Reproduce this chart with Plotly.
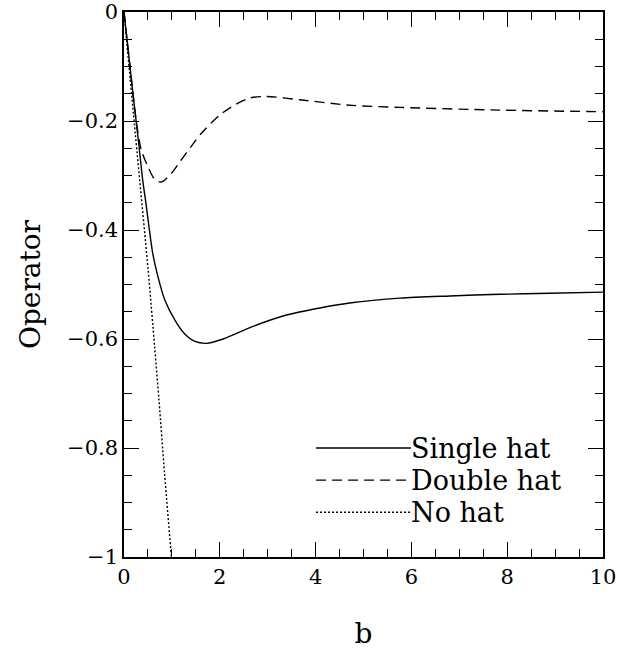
import plotly.graph_objects as go

# Data
b_single = [0, 0.1, 0.2, 0.29, 0.39, 0.46, 0.53, 0.6, 0.71, 0.85, 1.06, 1.26, 1.47, 1.72,
            2.07, 2.69, 3.39, 4.09, 4.71, 5.76, 6.8, 7.85, 8.89, 10]
single_hat = [0, -0.08, -0.16, -0.228, -0.308, -0.352, -0.40, -0.443, -0.486, -0.528, -0.565,
              -0.590, -0.604, -0.608, -0.600, -0.577, -0.556, -0.543, -0.534, -0.525, -0.521,
              -0.518, -0.516, -0.514]

b_double = [0, 0.1, 0.2, 0.28, 0.36, 0.5, 0.64, 0.78, 0.99, 1.19, 1.4, 1.61, 2.0, 2.34,
            2.62, 2.97, 3.67, 4.71, 5.76, 7.85, 10]
double_hat = [0, -0.08, -0.16, -0.215, -0.253, -0.284, -0.307, -0.312, -0.296, -0.272,
              -0.247, -0.223, -0.189, -0.169, -0.158, -0.155, -0.161, -0.171, -0.175,
              -0.180, -0.183]

b_none = [0, 0.2, 0.5, 0.64, 0.73, 0.846, 0.99, 1.05]
no_hat = [0, -0.19, -0.47, -0.615, -0.712, -0.846, -1.0, -1.06]

x_ticks = [0, 2, 4, 6, 8, 10]
y_ticks = [0, -0.2, -0.4, -0.6, -0.8, -1]

FONT = "DejaVu Serif"
LW = 1.4

fig = go.Figure()
series = [
    ("Single hat", b_single, single_hat, "solid"),
    ("Double hat", b_double, double_hat, "10px,6px"),
    ("No hat", b_none, no_hat, "2px,2px"),
]
for name, xs, ys, dash in series:
    fig.add_trace(go.Scatter(x=xs, y=ys, mode="lines", name=name, showlegend=False,
                             line=dict(color="black", width=LW, dash=dash, shape="spline",
                                       smoothing=0.8)))

# Custom legend (long line samples like the reference)
leg_y = [0.2, 0.141, 0.082]
for (name, _, _, dash), yy in zip(series, leg_y):
    fig.add_shape(type="line", xref="paper", yref="paper", x0=0.401, x1=0.599, y0=yy, y1=yy,
                  line=dict(color="black", width=LW, dash=dash))
    fig.add_annotation(xref="paper", yref="paper", x=0.599, y=yy, text=name, showarrow=False,
                       xanchor="left", yanchor="middle", xshift=-2,
                       font=dict(family=FONT, size=27, color="black"))

axis_common = dict(
    showgrid=False, zeroline=False, showline=True, linecolor="black", linewidth=1.5,
    mirror="allticks", ticks="inside", ticklen=15, tickwidth=1.3, tickcolor="black",
    tickfont=dict(family=FONT, size=21, color="black"), automargin=False,
)
fig.update_xaxes(range=[0, 10], tickvals=x_ticks, ticktext=[str(v) for v in x_ticks],
                 minor=dict(dtick=0.5, ticks="inside", ticklen=8, tickwidth=1.3,
                            tickcolor="black", showgrid=False),
                 title=dict(text="b", font=dict(family=FONT, size=28, color="black"),
                            standoff=36),
                 **axis_common)
fig.update_yaxes(range=[-1, 0], tickvals=y_ticks,
                 ticktext=["0" if v == 0 else ("\u22121" if v == -1 else "\u2212" + f"{abs(v):.1f}")
                           for v in y_ticks],
                 minor=dict(dtick=0.05, ticks="inside", ticklen=8, tickwidth=1.3,
                            tickcolor="black", showgrid=False),
                 title=dict(text="Operator", font=dict(family=FONT, size=28, color="black"),
                            standoff=18),
                 **axis_common)

fig.update_layout(width=618, height=650, plot_bgcolor="white", paper_bgcolor="white",
                  margin=dict(l=124, r=15, t=12, b=93), showlegend=False)

fig.write_html("out.html")
